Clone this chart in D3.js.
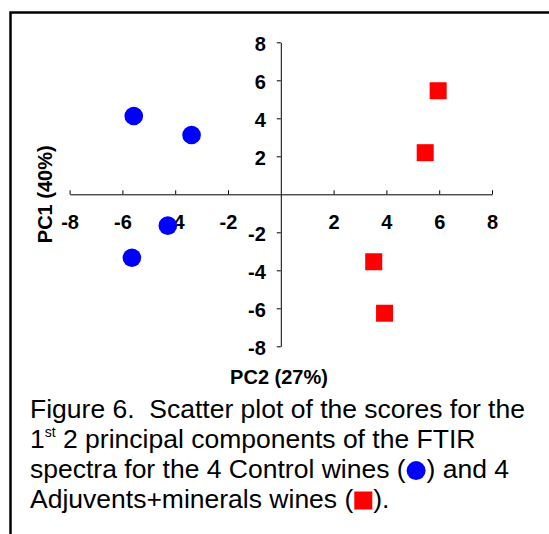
<!DOCTYPE html>
<html>
<head>
<meta charset="utf-8">
<script src="https://cdn.jsdelivr.net/npm/d3@7"></script>
<style>
  body { margin: 0; background: #fff; }
  text { font-family: Arial, "Liberation Sans", sans-serif; }
</style>
</head>
<body>
<script>
// PCA scores (x = PC2, y = PC1)
var controlPC2 = [-5.57, -3.38, -4.28, -5.64];
var controlPC1 = [4.12, 3.12, -1.65, -3.34];
var adjuvantPC2 = [5.96, 5.47, 3.52, 3.93];
var adjuvantPC1 = [5.45, 2.19, -3.55, -6.26];

var tickValues = [-8, -6, -4, -2, 2, 4, 6, 8];
var captionLines = [
    "Figure 6.\u00a0 Scatter plot of the scores for the",
    "1", "st", " 2 principal components of the FTIR",
    "spectra for the 4 Control wines (", ") and 4",
    "Adjuvents+minerals wines (", ")."
];

var width = 549, height = 534;

let svg = d3.select("body").append("svg")
    .attr("width", width)
    .attr("height", height);

// frame round the figure (runs off the right and bottom)
svg.append("rect")
    .attr("x", 10.5).attr("y", 12.5)
    .attr("width", 600).attr("height", 600)
    .attr("fill", "none")
    .attr("stroke", "black")
    .attr("stroke-width", 2.5);

let xScale = d3.scaleLinear().domain([-8, 8]).range([69.6, 492]);
let yScale = d3.scaleLinear().domain([-8, 8]).range([346.3, 42.3]);

// plain hyphen for negatives, like the original
let fmt = d => String(d);

// x axis crosses at PC1 = 0, ticks point up
let xAxis = d3.axisBottom(xScale)
    .tickValues(tickValues)
    .tickFormat(fmt)
    .tickSizeInner(-4)
    .tickSizeOuter(0)
    .tickPadding(21);
let gx = svg.append("g")
    .attr("transform", "translate(0," + yScale(0) + ")")
    .call(xAxis);

// y axis crosses at PC2 = 0
let yAxis = d3.axisLeft(yScale)
    .tickValues(tickValues)
    .tickFormat(fmt)
    .tickSizeInner(4)
    .tickSizeOuter(0)
    .tickPadding(11);
let gy = svg.append("g")
    .attr("transform", "translate(" + xScale(0) + ",0)")
    .call(yAxis);

[gx, gy].forEach(function (g) {
    g.select(".domain").attr("stroke", "black");
    g.selectAll(".tick line").attr("stroke", "black");
    g.selectAll(".tick text")
        .attr("font-family", "Arial, 'Liberation Sans', sans-serif")
        .attr("font-size", 20)
        .attr("font-weight", "bold")
        .attr("fill", "black");
});
gy.selectAll(".tick text").attr("dy", "0.42em");

// axis titles
svg.append("text")
    .attr("x", 279).attr("y", 384)
    .attr("text-anchor", "middle")
    .attr("font-size", 20)
    .attr("font-weight", "bold")
    .text("PC2 (27%)");

svg.append("text")
    .attr("transform", "translate(52," + yScale(0) + ") rotate(-90)")
    .attr("text-anchor", "middle")
    .attr("font-size", 20)
    .attr("font-weight", "bold")
    .text("PC1 (40%)");

// Control wines: blue circles
svg.selectAll("circle.control")
    .data(d3.range(controlPC2.length))
    .enter()
    .append("circle")
    .attr("class", "control")
    .attr("cx", i => xScale(controlPC2[i]))
    .attr("cy", i => yScale(controlPC1[i]))
    .attr("r", 9.3)
    .attr("fill", "#0000ff");

// Adjuvents+minerals wines: red squares
let sq = 17;
svg.selectAll("rect.adj")
    .data(d3.range(adjuvantPC2.length))
    .enter()
    .append("rect")
    .attr("class", "adj")
    .attr("x", i => xScale(adjuvantPC2[i]) - sq / 2)
    .attr("y", i => yScale(adjuvantPC1[i]) - sq / 2)
    .attr("width", sq)
    .attr("height", sq)
    .attr("fill", "#ff0000");

// caption
let capX = 30, capSize = 26.5, lineH = 30, base = 418.3;
let cap = svg.append("g").attr("font-size", capSize).attr("fill", "black");

cap.append("text").attr("x", capX).attr("y", base).text(captionLines[0]);

let l2 = cap.append("text").attr("x", capX).attr("y", base + lineH);
l2.append("tspan").text(captionLines[1]);
l2.append("tspan").attr("font-size", 14).attr("dy", -11).text(captionLines[2]);
l2.append("tspan").attr("dy", 11).text(captionLines[3]);

// line 3 with circle marker
let t3 = cap.append("text").attr("x", capX).attr("y", base + 2 * lineH).text(captionLines[4]);
let w3 = t3.node().getComputedTextLength();
cap.append("circle")
    .attr("cx", capX + w3 + 10.5)
    .attr("cy", base + 2 * lineH - 7.7)
    .attr("r", 9.5)
    .attr("fill", "#0000ff");
cap.append("text").attr("x", capX + w3 + 21).attr("y", base + 2 * lineH).text(captionLines[5]);

// line 4 with square marker
let t4 = cap.append("text").attr("x", capX).attr("y", base + 3 * lineH).text(captionLines[6]);
let w4 = t4.node().getComputedTextLength();
cap.append("rect")
    .attr("x", capX + w4 + 1)
    .attr("y", base + 3 * lineH - 7.8 - 9)
    .attr("width", 18).attr("height", 18)
    .attr("fill", "#ff0000");
cap.append("text").attr("x", capX + w4 + 20).attr("y", base + 3 * lineH).text(captionLines[7]);
</script>
</body>
</html>
